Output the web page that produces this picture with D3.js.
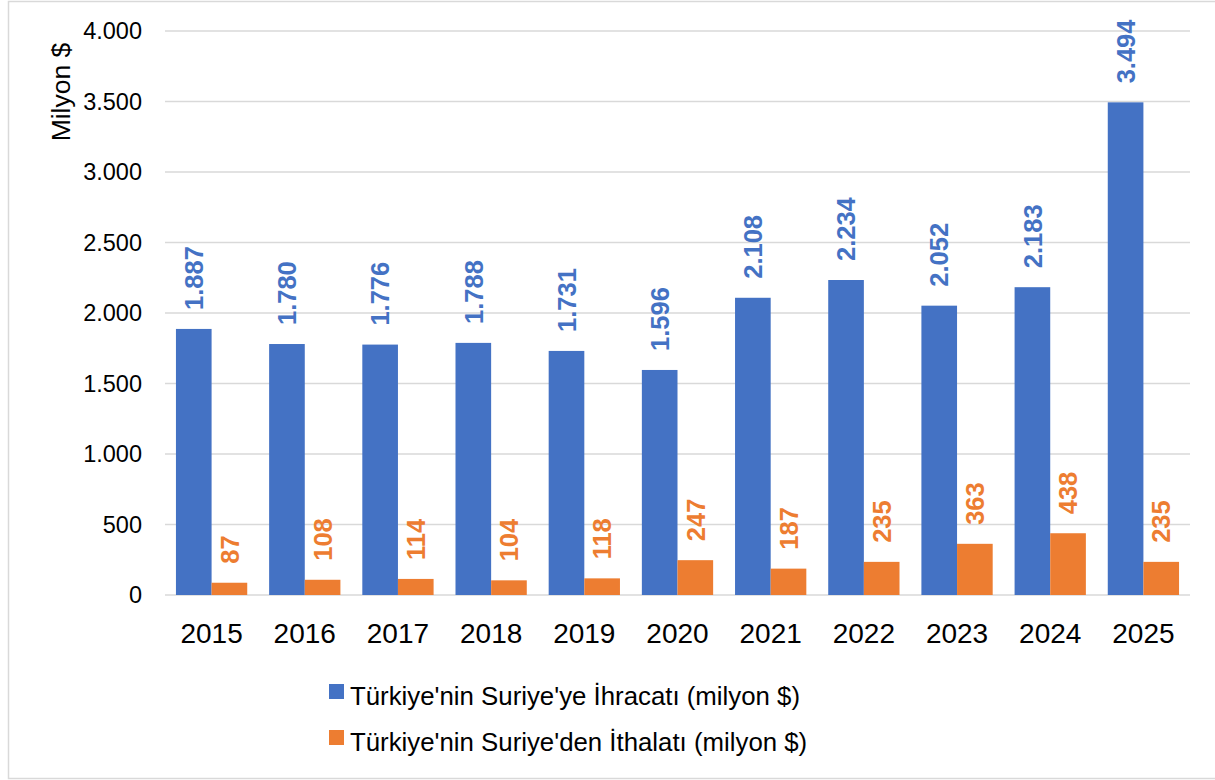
<!DOCTYPE html>
<html><head><meta charset="utf-8">
<script src="https://cdn.jsdelivr.net/npm/d3@7"></script>
<style>body{margin:0;background:#fff}svg{display:block}</style>
</head><body>
<svg id="c" width="1215" height="780"></svg>
<script>
const years = ["2015","2016","2017","2018","2019","2020","2021","2022","2023","2024","2025"];
const exports_ = [1887,1780,1776,1788,1731,1596,2108,2234,2052,2183,3494];
const imports_ = [87,108,114,104,118,247,187,235,363,438,235];
const seriesNames = ["Türkiye'nin Suriye'ye İhracatı (milyon $)","Türkiye'nin Suriye'den İthalatı (milyon $)"];
const colors = ["#4472C4","#ED7D31"];
const yTicks = [0,500,1000,1500,2000,2500,3000,3500,4000];

const svg = d3.select("#c");
const font = "'Liberation Sans', Arial, sans-serif";
svg.append("rect").attr("x",8.5).attr("y",1.5).attr("width",1215).attr("height",777)
  .attr("fill","#fff").attr("stroke","#d9d9d9").attr("stroke-width",1.5);

const L=165,R=1190,T=31,B=595;
const x = d3.scaleBand().domain(years).range([L,R]).paddingInner(0.235).paddingOuter(0.1175);
const xs = d3.scaleBand().domain([0,1]).range([0,x.bandwidth()]);
const y = d3.scaleLinear().domain([0,4000]).range([B,T]);
const fmt = v => d3.format(",")(v).replace(/,/g,".");

svg.append("g").selectAll("line").data(yTicks).join("line")
  .attr("x1",L).attr("x2",R).attr("y1",d=>y(d)).attr("y2",d=>y(d))
  .attr("stroke","#d9d9d9").attr("stroke-width",1.5);

svg.append("g").selectAll("text").data(yTicks).join("text")
  .attr("x",142).attr("y",d=>y(d)).attr("dy","0.35em").attr("text-anchor","end")
  .attr("font-family",font).attr("font-size",23.5).attr("fill","#000").text(fmt);

svg.append("text").attr("transform","translate(61,92) rotate(-90)")
  .attr("text-anchor","middle").attr("dy","0.35em").attr("font-family",font)
  .attr("font-size",26.5).attr("fill","#000").text("Milyon $");

svg.append("g").selectAll("text").data(years).join("text")
  .attr("x",d=>x(d)+x.bandwidth()/2).attr("y",633).attr("dy","0.35em").attr("text-anchor","middle")
  .attr("font-family",font).attr("font-size",28).attr("fill","#000").text(d=>d);

const data = [exports_, imports_];
data.forEach((vals,si)=>{
  const g = svg.append("g");
  g.selectAll("rect").data(vals).join("rect")
    .attr("x",(d,i)=>x(years[i])+xs(si)).attr("width",xs.bandwidth())
    .attr("y",d=>y(d)).attr("height",d=>B-y(d)).attr("fill",colors[si]);
  g.selectAll("text").data(vals).join("text")
    .attr("transform",(d,i)=>`translate(${x(years[i])+xs(si)+xs.bandwidth()/2},${y(d)-19}) rotate(-90)`)
    .attr("dy","0.36em").attr("text-anchor","start").attr("font-family",font)
    .attr("font-weight","bold").attr("font-size",25.5).attr("fill",colors[si]).text(fmt);
});

const leg = svg.append("g");
seriesNames.forEach((n,i)=>{
  const yy = 705 + i*46;
  leg.append("rect").attr("x",329).attr("y",yy-21).attr("width",15).attr("height",15).attr("fill",colors[i]);
  leg.append("text").attr("x",350).attr("y",yy).attr("font-family",font).attr("font-size",25.8)
    .attr("fill","#000").text(n);
});
</script>
</body></html>
